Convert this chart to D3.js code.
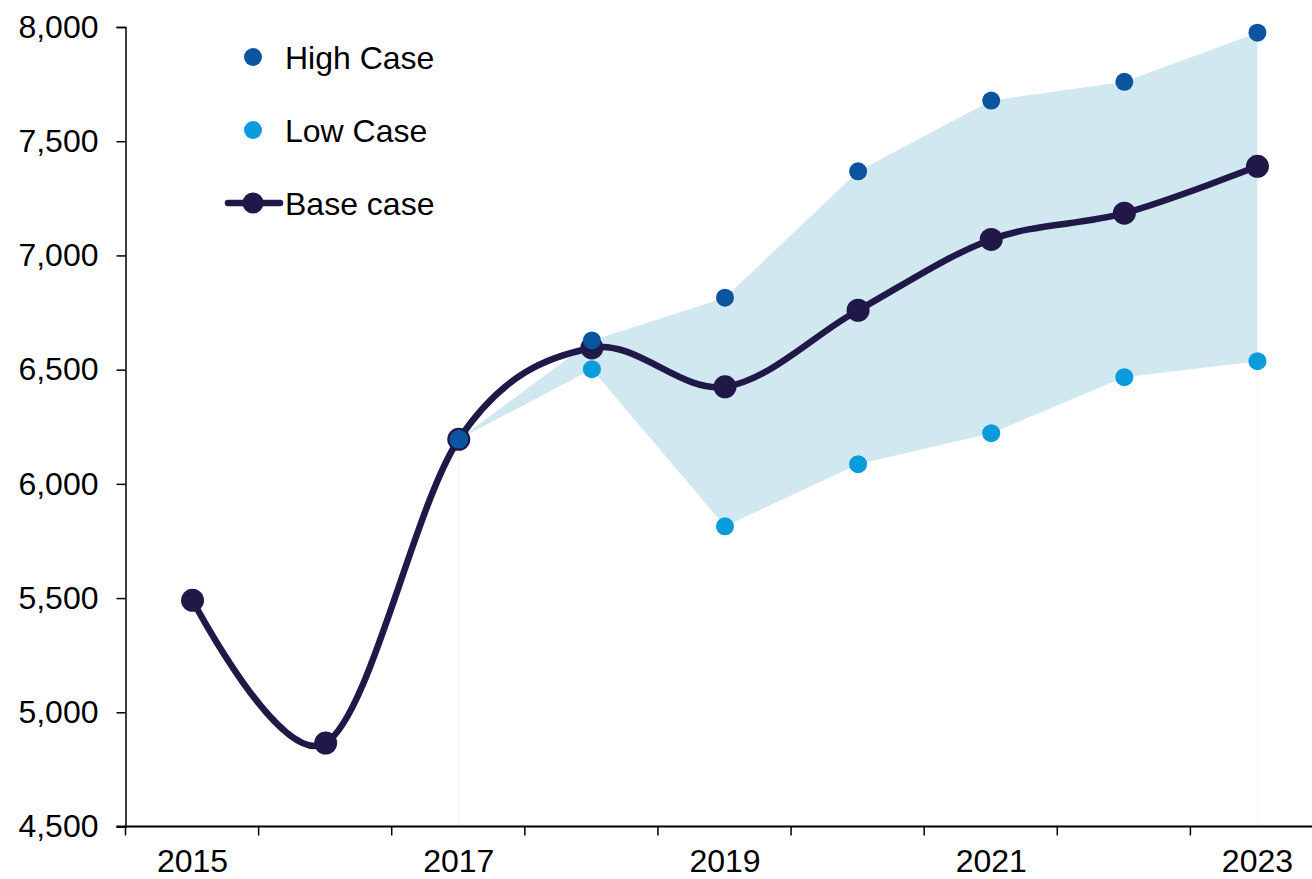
<!DOCTYPE html>
<html>
<head>
<meta charset="utf-8">
<script src="https://cdn.jsdelivr.net/npm/d3@7"></script>
<style>
  html, body { margin: 0; padding: 0; background: #ffffff; }
  svg { display: block; font-family: "Liberation Sans", Arial, sans-serif; }
</style>
</head>
<body>
<svg id="chart" width="1312" height="879"></svg>
<script>
// ---- Data ----
const years = ["2015", "2016", "2017", "2018", "2019", "2020", "2021", "2022", "2023"];
const baseCase = [5490, 4865, 6195, 6595, 6425, 6760, 7070, 7185, 7390];
const highYears = ["2017", "2018", "2019", "2020", "2021", "2022", "2023"];
const highCase = [6195, 6628, 6815, 7368, 7678, 7760, 7975];
const lowCase = [6195, 6502, 5814, 6086, 6222, 6467, 6537];
const xTickLabels = ["2015", "2017", "2019", "2021", "2023"];
const yTicks = [4500, 5000, 5500, 6000, 6500, 7000, 7500, 8000];

(function () {
// ---- Layout ----
const svg = d3.select("#chart");
const mLeft = 126, mRight = 1324, mTop = 27, mBottom = 826.5;
const colors = { high: "#0a54a0", low: "#0a9bdc", base: "#201847", band: "#d2e8f0" };
const fontSize = "32px";

const x = d3.scaleBand().domain(years).range([mLeft, mRight]).paddingInner(0).paddingOuter(0);
const cx = d => x(d) + x.bandwidth() / 2;
const y = d3.scaleLinear().domain([4500, 8000]).range([mBottom, mTop]);

// ---- Band (high/low range) ----
const bandData = highYears.map((yr, i) => ({ yr, hi: highCase[i], lo: lowCase[i] }));
svg.append("path")
  .datum(bandData)
  .attr("fill", colors.band)
  .attr("d", d3.area().x(d => cx(d.yr)).y0(d => y(d.lo)).y1(d => y(d.hi)));

// faint edges of invisible stacked area
[0, highYears.length - 1].forEach(i => {
  svg.append("line")
    .attr("x1", cx(highYears[i])).attr("x2", cx(highYears[i]))
    .attr("y1", y(lowCase[i])).attr("y2", mBottom)
    .attr("stroke", "#eef2f5").attr("stroke-width", 1);
});

// ---- Axes ----
const yAxis = d3.axisLeft(y).tickValues(yTicks).tickFormat(d3.format(",")).tickSize(9).tickPadding(18);
const gy = svg.append("g").attr("transform", `translate(${mLeft - 0.5},0)`).call(yAxis);
gy.select(".domain").attr("stroke", "#000").attr("stroke-width", 1.5);
gy.selectAll(".tick line").attr("stroke", "#000").attr("stroke-width", 1.5);
gy.selectAll(".tick text").attr("fill", "#000").style("font-size", fontSize).style("font-family", "Liberation Sans, Arial, sans-serif");

// x axis: tick marks at category boundaries
const gx = svg.append("g");
gx.append("line").attr("x1", mLeft - 9.5).attr("x2", mRight).attr("y1", mBottom).attr("y2", mBottom)
  .attr("stroke", "#000").attr("stroke-width", 2);
const boundaries = years.map(d => x(d) - 0.5);
gx.selectAll("line.tk").data(boundaries).join("line").attr("class", "tk")
  .attr("x1", d => d).attr("x2", d => d).attr("y1", mBottom).attr("y2", mBottom + 9)
  .attr("stroke", "#000").attr("stroke-width", 1.5);
gx.selectAll("text").data(xTickLabels).join("text")
  .attr("x", d => cx(d)).attr("y", mBottom + 45)
  .attr("text-anchor", "middle").attr("fill", "#000")
  .style("font-size", fontSize).text(d => d);

// ---- Base case line ----
const baseData = years.map((yr, i) => ({ yr, v: baseCase[i] }));
svg.append("path")
  .datum(baseData)
  .attr("fill", "none").attr("stroke", colors.base).attr("stroke-width", 6.5)
  .attr("stroke-linejoin", "round")
  .attr("d", d3.line().x(d => cx(d.yr)).y(d => y(d.v)).curve(d3.curveCardinal.tension(0)));

svg.selectAll("circle.base").data(baseData).join("circle")
  .attr("class", "base").attr("cx", d => cx(d.yr)).attr("cy", d => y(d.v)).attr("r", 11.5)
  .attr("fill", colors.base);

// ---- High / Low dots ----
svg.selectAll("circle.low").data(bandData).join("circle")
  .attr("class", "low").attr("cx", d => cx(d.yr)).attr("cy", d => y(d.lo)).attr("r", 9)
  .attr("fill", colors.low);
svg.selectAll("circle.high").data(bandData).join("circle")
  .attr("class", "high").attr("cx", d => cx(d.yr)).attr("cy", d => y(d.hi)).attr("r", 9)
  .attr("fill", colors.high);

// ---- Legend ----
const legend = svg.append("g");
const items = [
  { label: "High Case", type: "dot", color: colors.high, yy: 57 },
  { label: "Low Case", type: "dot", color: colors.low, yy: 130 },
  { label: "Base case", type: "line", color: colors.base, yy: 203 }
];
items.forEach(it => {
  if (it.type === "line") {
    legend.append("line").attr("x1", 228).attr("x2", 280).attr("y1", it.yy).attr("y2", it.yy)
      .attr("stroke", it.color).attr("stroke-width", 6.5).attr("stroke-linecap", "round");
    legend.append("circle").attr("cx", 253).attr("cy", it.yy).attr("r", 10.5).attr("fill", it.color);
  } else {
    legend.append("circle").attr("cx", 253).attr("cy", it.yy).attr("r", 9).attr("fill", it.color);
  }
  legend.append("text").attr("x", 285).attr("y", it.yy).attr("dy", "0.36em")
    .attr("fill", "#000").style("font-size", fontSize).text(it.label);
});
})();
</script>
</body>
</html>
